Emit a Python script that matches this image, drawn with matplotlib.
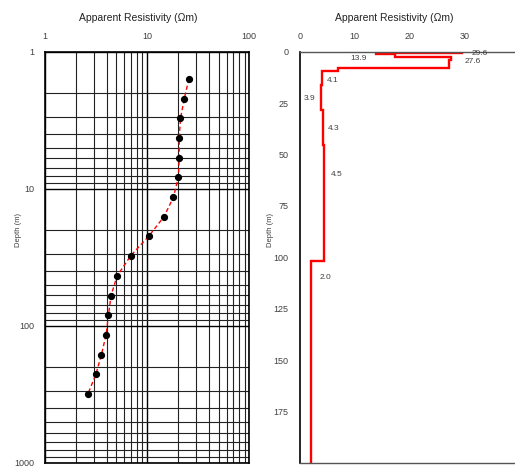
import numpy as np
import matplotlib.pyplot as plt
from matplotlib.ticker import FixedLocator, NullFormatter

plt.rcParams['font.family'] = ['Liberation Sans', 'DejaVu Sans']

# ===== sounding curve (left panel) =====
ab2 = [1.58, 2.20, 3.07, 4.24, 5.94, 8.27, 11.5, 16.0, 22.1, 30.8,
       43.2, 60.1, 83.5, 116, 162, 225, 312]
rho_a = [25.6, 23.1, 21.2, 20.6, 20.6, 20.2, 18.1, 14.6, 10.4, 6.9,
         5.08, 4.43, 4.18, 3.96, 3.57, 3.15, 2.64]

# ===== layered model (right panel) =====
layer_rho = [29.6, 13.9, 17.4, 27.6, 27.2, 7.0, 4.1, 3.9, 4.3, 4.5, 2.0]
layer_top = [0, 0.6, 1.2, 2.5, 4.0, 7.8, 9.5, 16.1, 28.2, 45.5, 101.7]
model_bottom = 200

# labels of the model layers: text, resistivity position, depth position
lab_text = ['29.6', '27.6', '13.9', '4.1', '3.9', '4.3', '4.5', '2.0']
lab_x = [31.3, 30.0, 9.2, 4.9, 0.8, 5.2, 5.7, 3.7]
lab_y = [0.8, 4.6, 3.3, 13.8, 23.0, 37.5, 59.5, 109.8]

fig = plt.figure(figsize=(5.15, 4.66), dpi=100)
txt_col = '#404040'

# ---------- left: log-log sounding curve ----------
ax1 = fig.add_axes([45/515, 1-463/466, 204.3/515, 411.3/466])
ax1.set_xscale('log')
ax1.set_yscale('log')
ax1.set_xlim(1, 100)
ax1.set_ylim(1000, 1)
minors = [m*10**e for e in range(0, 3) for m in range(2, 10)]
ax1.xaxis.set_minor_locator(FixedLocator(minors))
ax1.yaxis.set_minor_locator(FixedLocator(minors))
ax1.xaxis.set_minor_formatter(NullFormatter())
ax1.yaxis.set_minor_formatter(NullFormatter())
ax1.set_xticks([1, 10, 100], ['1', '10', '100'])
ax1.set_yticks([1, 10, 100, 1000], ['1', '10', '100', '1000'])
ax1.grid(True, which='major', color='black', lw=1.0)
ax1.grid(True, which='minor', color='#222222', lw=0.8)
ax1.xaxis.tick_top()
ax1.tick_params(which='both', length=0, labelsize=6.5, colors=txt_col, pad=8)
for s in ax1.spines.values():
    s.set_color('black')
    s.set_linewidth(1.2)
ax1.plot(rho_a, ab2, '--', color='red', lw=1.0, dashes=(3, 2), zorder=3)
ax1.plot(rho_a, ab2, 'o', color='black', ms=4.2, zorder=4)
ax1.set_axisbelow(True)

# ---------- right: layered model ----------
ax2 = fig.add_axes([299.7/515, 1-463/466, 219.6/515, 411.3/466])
xs, ys = [], []
bottoms = layer_top[1:] + [model_bottom]
for r, t, b in zip(layer_rho, layer_top, bottoms):
    xs += [r, r]
    ys += [t, b]
ax2.plot(xs, ys, color='red', lw=1.7, solid_joinstyle='miter')
ax2.set_xlim(0, 40)
ax2.set_ylim(200, 0)
ax2.set_xticks([0, 10, 20, 30])
ax2.set_yticks([0, 25, 50, 75, 100, 125, 150, 175])
ax2.xaxis.tick_top()
ax2.tick_params(length=0, labelsize=6.5, colors=txt_col, pad=8)
ax2.spines['left'].set_color('black')
ax2.spines['left'].set_linewidth(1.2)
for k in ['top', 'bottom', 'right']:
    ax2.spines[k].set_color('#555555')
    ax2.spines[k].set_linewidth(1.0)
for t, x, y in zip(lab_text, lab_x, lab_y):
    ax2.text(x, y, t, fontsize=6, color=txt_col, va='center', ha='left')

# titles and axis names
fig.text(138/515, 1-18/466, 'Apparent Resistivity (\u03a9m)', ha='center', va='center',
         fontsize=7.5, color='#222222')
fig.text(394/515, 1-18/466, 'Apparent Resistivity (\u03a9m)', ha='center', va='center',
         fontsize=7.5, color='#222222')
fig.text(18/515, 1-230/466, 'Depth (m)', rotation=90, ha='center', va='center',
         fontsize=5.5, color=txt_col)
fig.text(270/515, 1-230/466, 'Depth (m)', rotation=90, ha='center', va='center',
         fontsize=5.5, color=txt_col)

plt.savefig('out.png', dpi=100)
